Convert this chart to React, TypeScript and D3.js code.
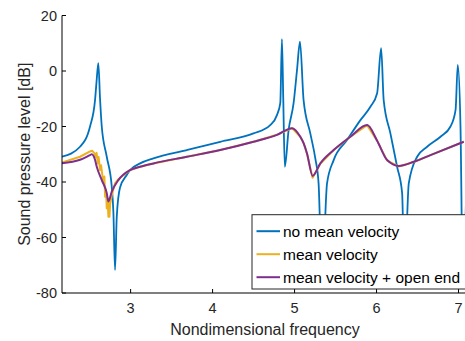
import * as d3 from 'd3';

// values
const blueFreq = [2.163, 2.383, 2.505, 2.566, 2.584, 2.606, 2.627, 2.648, 2.709, 2.77, 2.79, 2.81, 2.831, 2.871, 2.953, 2.994, 3.116, 3.278, 3.686, 4.093, 4.499, 4.703, 4.785, 4.826, 4.846, 4.862, 4.881, 4.927, 4.988, 5.03, 5.066, 5.11, 5.192, 5.253, 5.293, 5.335, 5.396, 5.477, 5.64, 5.803, 5.925, 6.007, 6.056, 6.087, 6.169, 6.251, 6.312, 6.34, 6.393, 6.495, 6.617, 6.78, 6.902, 6.964, 6.991, 7.024, 7.052, 7.097];
const blueSpl = [-30.9, -27.3, -20, -10.5, -4, 2.8, -10, -20, -30.9, -41.7, -51, -71.7, -52.5, -42, -37.5, -35.7, -33.3, -31.5, -28.5, -25.5, -22.5, -19.5, -15.9, -11.5, 11.5, -10, -34.5, -21.3, -11.6, 0.4, 10.6, -10.5, -22.5, -31.5, -40.5, -75, -40.5, -32.1, -24.9, -17.7, -12.9, -8, 8.2, -10.5, -22.5, -34.5, -44, -75, -40.5, -30.9, -27.3, -23.7, -20, -14, 2.2, -20, -75, -40];

const purpleFreq = [2.163, 2.383, 2.505, 2.526, 2.566, 2.587, 2.648, 2.709, 2.729, 2.77, 2.851, 2.994, 3.116, 3.278, 3.686, 4.093, 4.499, 4.785, 4.969, 5.07, 5.11, 5.152, 5.22, 5.314, 5.477, 5.681, 5.885, 6.007, 6.129, 6.27, 6.454, 6.658, 7.064];
const purpleSpl = [-33.2, -32, -30.3, -30, -32, -34.5, -39.3, -44, -47, -43.5, -39.3, -35.7, -34.5, -33.3, -30.9, -28.5, -25.5, -23, -20.6, -23.7, -26, -29.7, -37.8, -33.3, -28.5, -23.7, -19.5, -25.1, -32.1, -34.2, -32.7, -30.3, -25.5];

const orangeFreq = [2.163, 2.383, 2.505, 2.53, 2.56, 2.575, 2.585, 2.6, 2.61, 2.627, 2.64, 2.668, 2.68, 2.689, 2.7, 2.709, 2.72, 2.729, 2.735, 2.742, 2.75, 2.77, 2.81, 2.851, 2.994, 3.116, 3.278, 3.686, 4.093, 4.499, 4.785, 4.969, 5.07, 5.11, 5.152, 5.22, 5.314, 5.477, 5.681, 5.885, 6.007, 6.129, 6.27, 6.454, 6.658, 7.064];
const orangeSpl = [-33, -30.9, -29, -28.7, -29.7, -31, -29.5, -33.3, -31, -35.7, -34, -40.5, -38, -45.3, -43, -49.5, -47, -52.5, -46, -52.5, -48, -44.7, -40.5, -39, -35.7, -34.5, -33.3, -30.9, -28.5, -25.5, -23, -20.6, -23.7, -26, -29.9, -38.5, -33.4, -28.5, -23.7, -19.5, -25.1, -32.3, -34.4, -32.8, -30.3, -25.5];

const xTicks = [3, 4, 5, 6, 7];
const yTicks = [20, 0, -20, -40, -60, -80];
const legendLabels = ['no mean velocity', 'mean velocity', 'mean velocity + open end'];
const colors = ['#0072BD', '#EDB120', '#7E2F8E'];

const W = 465;
const H = 341;
const left = 62;
const right = 465;
const top = 15.5;
const bottom = 293;
const font = '"Liberation Sans", Arial, sans-serif';

export default function App() {
  const x = d3.scaleLinear().domain([2.163, 7.079]).range([left, right]);
  const y = d3.scaleLinear().domain([-80, 20]).range([bottom, top]);

  const smooth = d3.line<[number, number]>()
    .x(d => x(d[0]))
    .y(d => y(d[1]))
    .curve(d3.curveMonotoneX);
  const straight = d3.line<[number, number]>()
    .x(d => x(d[0]))
    .y(d => y(d[1]));

  const zip = (a: number[], b: number[]) => a.map((v, i) => [v, b[i]] as [number, number]);
  const series = [
    { d: smooth(zip(blueFreq, blueSpl)), color: colors[0], w: 1.8 },
    { d: straight(zip(orangeFreq, orangeSpl)), color: colors[1], w: 2 },
    { d: smooth(zip(purpleFreq, purpleSpl)), color: colors[2], w: 2 },
  ];

  const lx = 252;
  const ly = 214.7;
  const rowGap = 23;

  return (
    <svg width={W} height={H} style={{ position: 'absolute', left: 0, top: 0, background: 'white' }} fontFamily={font}>
      <defs>
        <clipPath id="plot">
          <rect x={left} y={top} width={right - left + 5} height={bottom - top} />
        </clipPath>
      </defs>
      <g clipPath="url(#plot)">
        {series.map((s, i) => (
          <path key={i} d={s.d ?? ''} fill="none" stroke={s.color} strokeWidth={s.w} strokeLinejoin="round" />
        ))}
      </g>

      {/* axes */}
      <line x1={left} x2={left} y1={top} y2={bottom} stroke="#000" strokeWidth={1} />
      <line x1={left} x2={right + 5} y1={bottom} y2={bottom} stroke="#000" strokeWidth={1} />
      {yTicks.map(t => (
        <g key={t}>
          <line x1={left} x2={left + 4} y1={y(t)} y2={y(t)} stroke="#000" />
          <text x={left - 5} y={y(t)} dy="0.35em" textAnchor="end" fontSize={14.5} fill="#262626">{t}</text>
        </g>
      ))}
      {xTicks.map(t => (
        <g key={t}>
          <line x1={x(t)} x2={x(t)} y1={bottom} y2={bottom - 4} stroke="#000" />
          <text x={x(t)} y={bottom + 20} textAnchor="middle" fontSize={14.5} fill="#262626">{t}</text>
        </g>
      ))}
      <text x={265} y={335} textAnchor="middle" fontSize={16} fill="#262626">Nondimensional frequency</text>
      <text transform={`translate(30,${(top + bottom) / 2}) rotate(-90)`} textAnchor="middle" fontSize={16} fill="#262626">Sound pressure level [dB]</text>

      {/* legend */}
      <rect x={lx} y={ly} width={230} height={289 - ly} fill="#fff" stroke="#262626" strokeWidth={1} />
      {legendLabels.map((lab, i) => (
        <g key={lab}>
          <line x1={lx + 4.5} x2={lx + 28} y1={ly + 16.5 + i * rowGap} y2={ly + 16.5 + i * rowGap} stroke={colors[i]} strokeWidth={2} />
          <text x={lx + 31} y={ly + 16.5 + i * rowGap} dy="0.35em" fontSize={15.5} fill="#000">{lab}</text>
        </g>
      ))}
    </svg>
  );
}
